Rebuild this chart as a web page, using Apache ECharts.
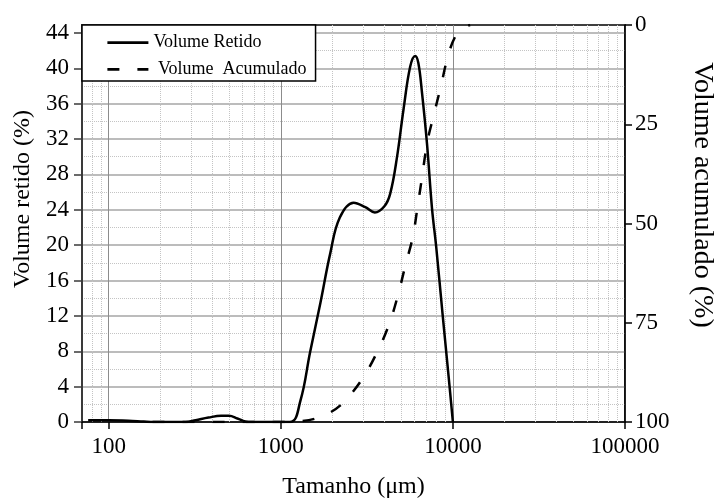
<!DOCTYPE html>
<html><head><meta charset="utf-8">
<script src="https://cdn.jsdelivr.net/npm/echarts@6/dist/echarts.min.js"></script>
<style>html,body{margin:0;padding:0;background:#fff}#c{width:714px;height:504px}</style>
</head><body><div id="c"></div>
<script>
const FONT = '"Liberation Serif","Times New Roman",serif';

// Volume Retido (left axis, %)
const retidoSize  = [76, 100, 130, 160, 182, 280, 320, 380, 450, 500, 560, 620, 650, 1130, 1300, 1480, 1700, 1940, 2200, 2650, 3100, 3520, 4000, 4320, 4730, 5170, 5650, 6040, 6300, 6610, 7070, 7560, 8000, 8730, 9460, 10000];
const retidoValue = [0.2, 0.2, 0.15, 0.05, 0, 0, 0.2, 0.5, 0.7, 0.7, 0.4, 0.05, 0, 0, 2.4, 7.9, 13.5, 19.1, 23.1, 24.8, 24.3, 23.7, 24.4, 25.8, 29.9, 35.4, 40.2, 41.4, 40.6, 37.3, 31.5, 24.2, 19.8, 12, 5, 0];

// Volume Acumulado (right axis, %, inverted)
const acumSize  = [180, 1000, 1300, 1570, 1900, 2300, 2960, 3620, 4260, 4800, 5300, 5850, 6200, 6600, 7100, 7700, 8500, 9350, 10300, 11500, 12600];
const acumValue = [100, 100, 99.8, 99.2, 97.8, 95.2, 89.3, 82.5, 75.4, 68, 60.5, 53.4, 46.5, 38.7, 29.5, 23.1, 15.6, 7.9, 3, 0.7, 0];

const xTickLabels = ['100', '1000', '10000', '100000'];
const leftTicks = [0, 4, 8, 12, 16, 20, 24, 28, 32, 36, 40, 44];
const rightTicks = [0, 25, 50, 75, 100];
const minorGridX = [80, 90, 200, 300, 400, 500, 600, 700, 800, 900, 2000, 3000, 4000, 5000, 6000, 7000, 8000, 9000, 20000, 30000, 40000, 50000, 60000, 70000, 80000, 90000];
const seriesNames = ['Volume Retido', 'Volume  Acumulado'];
const axisTitles = ['Tamanho (μm)', 'Volume retido (%)', 'Volume acumulado (%)'];

const chart = echarts.init(document.getElementById('c'), null, {renderer: 'canvas'});
chart.setOption({
  animation: false,
  backgroundColor: '#fff',
  grid: {left: 82, right: 89, top: 25, bottom: 76, show: true, borderColor: '#000', borderWidth: 1.5, backgroundColor: 'transparent'},
  legend: {
    data: seriesNames, orient: 'vertical', left: 82, top: 25,
    itemWidth: 41, itemHeight: 18, itemGap: 8.6,
    padding: [8.7, 9, 2.7, 24],
    backgroundColor: '#fff', borderColor: '#000', borderWidth: 1.5, borderRadius: 0,
    itemStyle: {opacity: 0},
    lineStyle: {width: 2.8, color: '#000'},
    textStyle: {fontFamily: FONT, fontSize: 18, color: '#000'},
    formatter: n => n === seriesNames[1] ? ' ' + n : n,
    selectedMode: false
  },
  xAxis: {
    type: 'log', logBase: 10, min: 70, max: 100000,
    axisLine: {show: true, onZero: false, lineStyle: {color: '#000', width: 1.5}},
    axisTick: {show: true, inside: false, length: 7, lineStyle: {color: '#000', width: 1.5}},
    axisLabel: {fontFamily: FONT, fontSize: 23, color: '#000', margin: 13,
      formatter: v => { const s = String(Math.round(v)); return xTickLabels.includes(s) ? s : ''; }},
    splitLine: {show: true, lineStyle: {color: '#8c8c8c', width: 1}},
    name: axisTitles[0], nameLocation: 'middle', nameGap: 53,
    nameTextStyle: {fontFamily: FONT, fontSize: 24, color: '#000'}
  },
  yAxis: [{
    type: 'value', min: 0, max: 44.9, interval: 4, position: 'left',
    axisLine: {show: true, lineStyle: {color: '#3a3a3a', width: 2}},
    axisTick: {show: true, inside: false, length: 8, customValues: leftTicks, lineStyle: {color: '#3a3a3a', width: 1.5}},
    axisLabel: {fontFamily: FONT, fontSize: 23, color: '#000', margin: 13, customValues: leftTicks,
      formatter: v => (Math.abs(v % 4) < 1e-6 ? String(v) : '')},
    splitLine: {show: true, lineStyle: {color: '#a6a6a6', width: 1.5}},
    minorTick: {show: false, splitNumber: 2},
    minorSplitLine: {show: true, lineStyle: {color: '#c4c4c4', type: 'dotted', width: 1}}
  }, {
    type: 'value', min: 0, max: 100, interval: 25, position: 'right', inverse: true,
    axisLine: {show: true, lineStyle: {color: '#000', width: 1.5}},
    axisTick: {show: true, inside: false, length: 7, lineStyle: {color: '#000', width: 1.5}},
    axisLabel: {fontFamily: FONT, fontSize: 23, color: '#000', margin: 10,
      formatter: v => (rightTicks.includes(v) ? String(v) : '')},
    splitLine: {show: false}
  }],
  graphic: [
    {type: 'text', x: 22.5, y: 199, rotation: Math.PI / 2, silent: true,
     style: {text: axisTitles[1], fontFamily: FONT, fontSize: 24, fill: '#000', align: 'center', verticalAlign: 'middle'}},
    {type: 'text', x: 702.5, y: 195, rotation: -Math.PI / 2, silent: true,
     style: {text: axisTitles[2], fontFamily: FONT, fontSize: 28, fill: '#000', align: 'center', verticalAlign: 'middle'}}
  ],
  series: [
    {
      name: 'minorGrid', type: 'line', data: [], silent: true, xAxisIndex: 0, yAxisIndex: 0,
      markLine: {silent: true, z: 1, symbol: ['none', 'none'], label: {show: false}, animation: false,
        lineStyle: {color: '#c4c4c4', type: 'dotted', width: 1},
        data: minorGridX.map(v => ({xAxis: v}))}
    },
    {
      name: seriesNames[0], type: 'line', xAxisIndex: 0, yAxisIndex: 0, z: 3,
      data: retidoSize.map((s, i) => [s, retidoValue[i]]),
      smooth: 0.4, symbol: 'none', showSymbol: false,
      color: '#000', lineStyle: {color: '#000', width: 2.5}
    },
    {
      name: seriesNames[1], type: 'line', xAxisIndex: 0, yAxisIndex: 1, z: 3,
      data: acumSize.map((s, i) => [s, acumValue[i]]),
      smooth: 0.35, symbol: 'none', showSymbol: false,
      color: '#000', lineStyle: {color: '#000', width: 2.5, type: [12, 18]}
    }
  ]
});
</script>
</body></html>
